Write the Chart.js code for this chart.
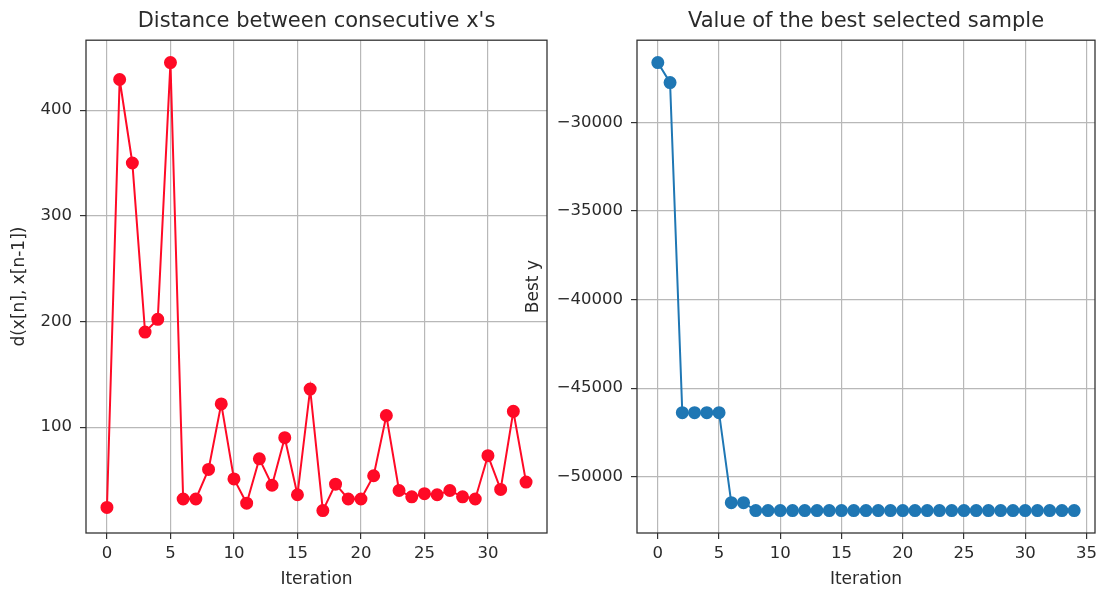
<!DOCTYPE html>
<html>
<head>
<meta charset="utf-8">
<title>Optimisation progress</title>
<script src="https://cdn.jsdelivr.net/npm/chart.js@4.4.1/dist/chart.umd.min.js"></script>
<style>
  body { margin: 0; background: #fff; }
  #wrap { position: relative; width: 1106px; height: 595px; overflow: hidden; }
  .panel { position: absolute; top: 0; }
  #leftChart { left: 0; }
  #rightChart { left: 500px; }
</style>
</head>
<body>
<div id="wrap">
  <canvas id="leftChart" class="panel" width="560" height="595"></canvas>
  <canvas id="rightChart" class="panel" width="606" height="595"></canvas>
</div>
<script>
// distance between consecutive x's, one value per iteration
const distances = [24, 429, 350, 190, 202, 445, 32, 32, 60, 122, 51, 28, 70, 45, 90, 36, 136,
  21, 46, 32, 32, 54, 111, 40, 34, 37, 36, 40, 34, 32, 73, 41, 115, 48];

// best objective value found so far
const bestY = [-26620, -27750, -46380, -46380, -46380, -46380, -51460, -51460,
  -51910, -51910, -51910, -51910, -51910, -51910, -51910, -51910, -51910, -51910,
  -51910, -51910, -51910, -51910, -51910, -51910, -51910, -51910, -51910, -51910,
  -51910, -51910, -51910, -51910, -51910, -51910, -51910];

const xTicksLeft = [0, 5, 10, 15, 20, 25, 30];
const yTicksLeft = [100, 200, 300, 400];
const xTicksRight = [0, 5, 10, 15, 20, 25, 30, 35];
const yTicksRight = [-50000, -45000, -40000, -35000, -30000];

const FONT = 'DejaVu Sans';
const TEXT = '#2a2a2a';
const GRID = '#b8b8b8';
const SPINE = '#333';

// matplotlib-like 5% margins around the data
function padded(values) {
  const lo = Math.min(...values), hi = Math.max(...values);
  const m = (hi - lo) * 0.05;
  return { min: lo - m, max: hi + m };
}

const toPoints = arr => arr.map((v, i) => ({ x: i, y: v }));
const fmt = v => (v < 0 ? '\u2212' + Math.abs(v) : String(v));

// box around the plotting area (all four spines)
const framePlugin = {
  id: 'frame',
  afterDraw(chart) {
    const { ctx, chartArea: a } = chart;
    ctx.save();
    ctx.strokeStyle = SPINE;
    ctx.lineWidth = 1.3;
    ctx.strokeRect(a.left, a.top, a.right - a.left, a.bottom - a.top);
    ctx.restore();
  }
};

function axisOpts(range, ticks, size, title, titlePad) {
  return {
    type: 'linear',
    min: range.min,
    max: range.max,
    afterBuildTicks: s => { s.ticks = ticks.map(v => ({ value: v })); },
    afterFit: s => {
      if (s.isHorizontal()) s.height = size; else s.width = size;
    },
    border: { display: false },
    grid: {
      color: GRID,
      lineWidth: 1.2,
      drawTicks: true,
      tickLength: 6,
      tickColor: SPINE,
      tickWidth: 1.2
    },
    ticks: {
      autoSkip: false,
      maxRotation: 0,
      padding: 8,
      color: TEXT,
      font: { family: FONT, size: 16.5 },
      callback: v => fmt(v)
    },
    title: {
      display: true,
      text: title,
      color: TEXT,
      font: { family: FONT, size: 17 },
      padding: titlePad
    }
  };
}

function makeChart(id, data, color, xTicks, yTicks, yWidth, rightPad, titleText, yTitle, yTitlePad) {
  const xr = padded(data.map((_, i) => i));
  const yr = padded(data);
  const xAxis = axisOpts(xr, xTicks, 62, 'Iteration', { top: 0, bottom: 5 });
  xAxis.ticks.padding = 5;
  return new Chart(document.getElementById(id), {
    type: 'line',
    data: {
      datasets: [{
        data: toPoints(data),
        borderColor: color,
        backgroundColor: color,
        pointBackgroundColor: color,
        pointBorderColor: color,
        borderWidth: 2,
        pointRadius: 5.5,
        pointHoverRadius: 5.5,
        tension: 0
      }]
    },
    options: {
      responsive: false,
      animation: false,
      layout: { padding: { top: 0, right: rightPad, bottom: 0, left: 0 } },
      plugins: {
        legend: { display: false },
        tooltip: { enabled: false },
        title: {
          display: true,
          text: titleText,
          fullSize: false,
          color: TEXT,
          font: { family: FONT, size: 21, weight: 'normal' },
          padding: { top: 9, bottom: 6 }
        }
      },
      scales: {
        x: xAxis,
        y: axisOpts(yr, yTicks, yWidth, yTitle, yTitlePad)
      }
    },
    plugins: [framePlugin]
  });
}

makeChart('leftChart', distances, '#ff0a26', xTicksLeft, yTicksLeft, 86, 13,
  "Distance between consecutive x's", 'd(x[n], x[n-1])', { top: 9, bottom: 0 });

makeChart('rightChart', bestY, '#1f77b4', xTicksRight, yTicksRight, 137, 11,
  'Value of the best selected sample', 'Best y', { top: 23, bottom: 0 });
</script>
</body>
</html>
